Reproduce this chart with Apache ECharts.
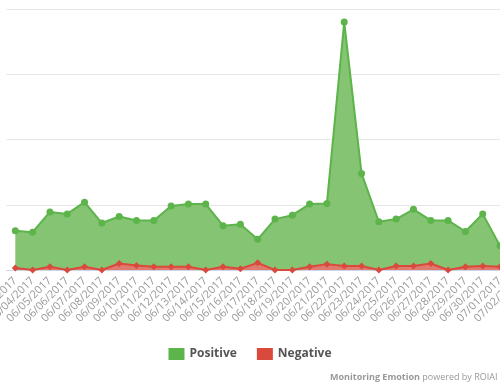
<!DOCTYPE html>
<html>
<head>
<meta charset="utf-8">
<script src="https://cdn.jsdelivr.net/npm/echarts@6/dist/echarts.min.js"></script>
<style>
html,body{margin:0;padding:0;background:#fff;overflow:hidden;}
#chart{width:500px;height:383px;}
</style>
</head>
<body>
<div id="chart"></div>
<script>
var categories = ['06/03/2017','06/04/2017','06/05/2017','06/06/2017','06/07/2017','06/08/2017','06/09/2017','06/10/2017','06/11/2017','06/12/2017','06/13/2017','06/14/2017','06/15/2017','06/16/2017','06/17/2017','06/18/2017','06/19/2017','06/20/2017','06/21/2017','06/22/2017','06/23/2017','06/24/2017','06/25/2017','06/26/2017','06/27/2017','06/28/2017','06/29/2017','06/30/2017','07/01/2017','07/02/2017'];
var positive = [60,58,89,86,104,72,82,76,76,98,101,101,68,70,47,78,84,101,102,380,148,74,78,93,76,76,59,86,37,50];
var negative = [3,0,5,0,5,0,10,7,5,5,5,0,5,2,11,0,0,5,9,6,6,0,6,6,10,0,5,6,5,4];
var seriesNames = ['Positive','Negative'];

var chart = echarts.init(document.getElementById('chart'), null, {renderer:'canvas'});
chart.setOption({
  animation:false,
  grid:{left:6.65, right:-26, top:9, bottom:113, containLabel:false, outerBoundsMode:'none'},
  legend:{
    data:seriesNames, bottom:18, left:'center', icon:'rect', itemWidth:16, itemHeight:12, itemGap:20,
    textStyle:{color:'#555', fontSize:12, fontWeight:'bold', fontFamily:'Open Sans'}
  },
  xAxis:{
    type:'category', data:categories, boundaryGap:true,
    axisLine:{lineStyle:{color:'#ccd6eb'}},
    axisTick:{alignWithLabel:true, length:10, lineStyle:{color:'#dddddd'}},
    axisLabel:{interval:0, rotate:45, fontSize:11, color:'#999', fontFamily:'Open Sans', margin:9}
  },
  yAxis:{
    type:'value', min:0, max:400, interval:100,
    axisLabel:{show:false}, axisLine:{show:false}, axisTick:{show:false},
    splitLine:{lineStyle:{color:'#e6e6e6'}}
  },
  series:[
    {name:seriesNames[0], type:'line', data:positive, symbol:'circle', symbolSize:7,
     itemStyle:{color:'#5cb44a'}, lineStyle:{width:2, color:'#5cb44a'},
     areaStyle:{color:'#84c472', opacity:1}},
    {name:seriesNames[1], type:'line', data:negative, symbol:'diamond', symbolSize:7,
     itemStyle:{color:'#d9493c'}, lineStyle:{width:2, color:'#d9493c'},
     areaStyle:{color:'#e07a6f', opacity:1}}
  ],
  graphic:[{
    type:'text', left:330, top:373,
    style:{
      text:'{b|Monitoring Emotion} powered by ROIAI',
      rich:{b:{fontWeight:'bold', fontSize:9, fill:'#999', fontFamily:'Open Sans'}},
      fontSize:9, fill:'#999', fontFamily:'Open Sans'
    }
  }]
});
</script>
</body>
</html>
